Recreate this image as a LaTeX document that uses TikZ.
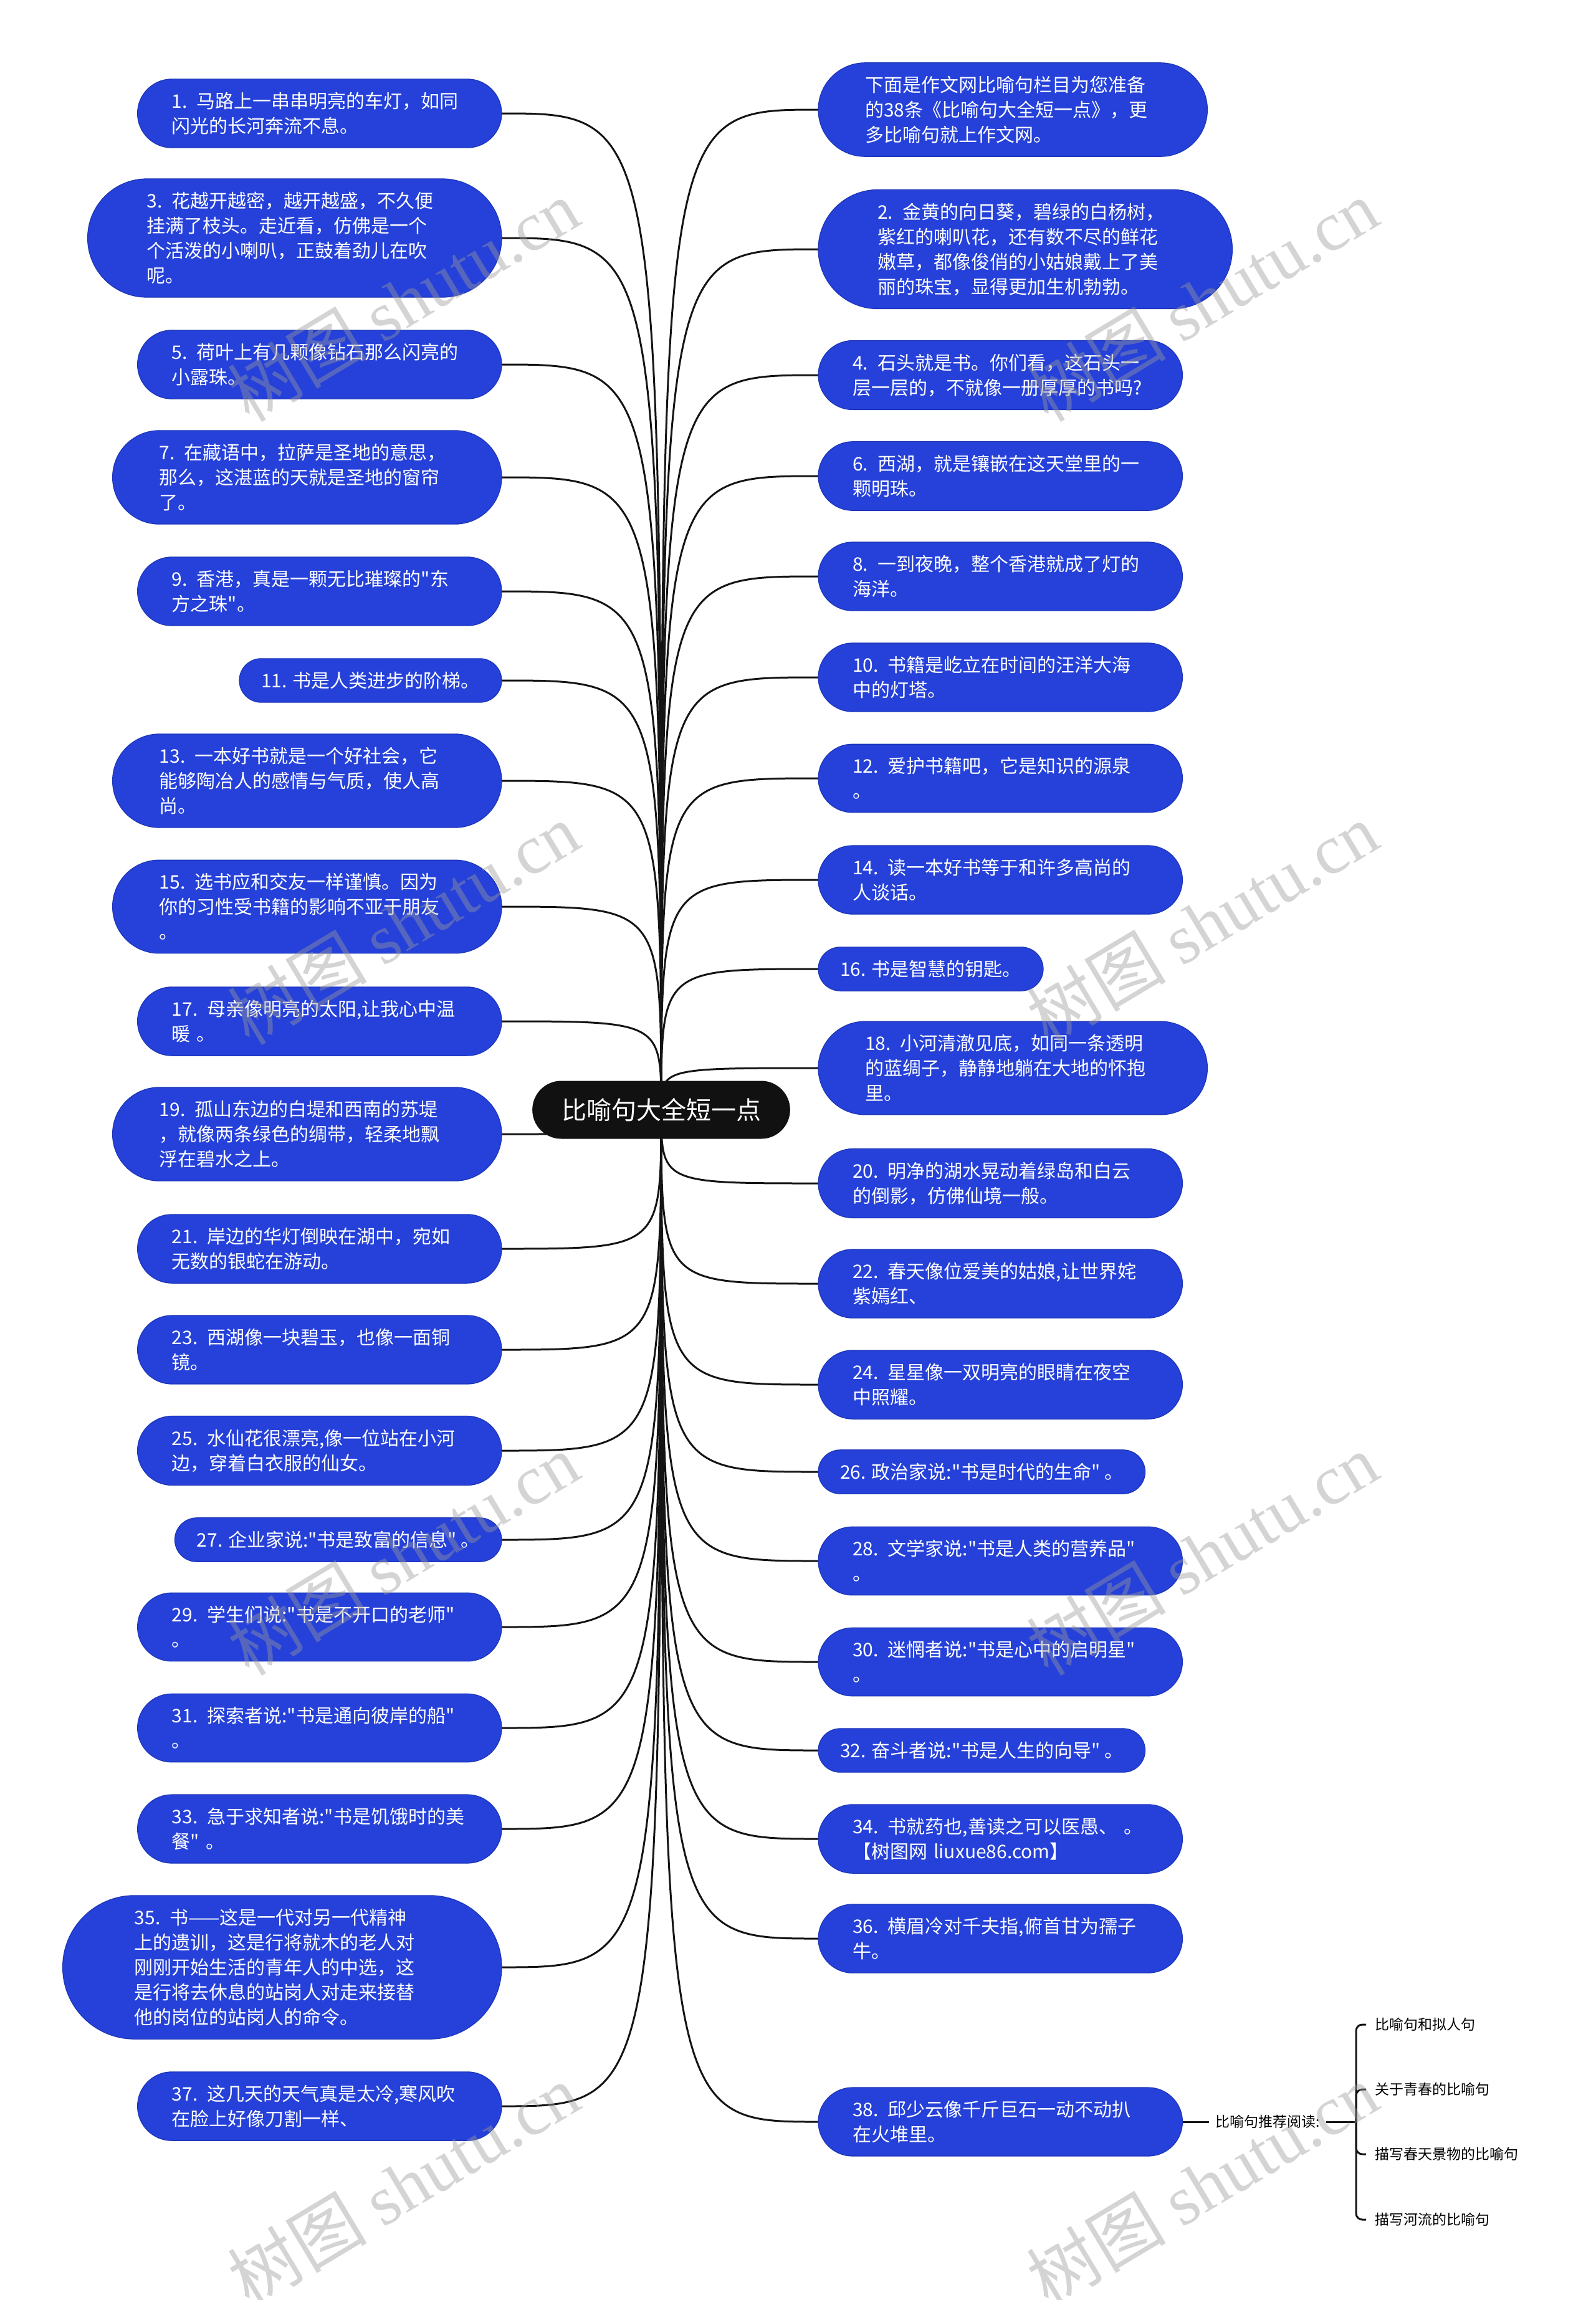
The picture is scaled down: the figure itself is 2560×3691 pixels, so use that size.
\documentclass[tikz,border=0pt]{standalone}
\usepackage{fontspec}
\setmainfont{Noto Sans CJK SC}[Ligatures=TeXOff]
\newfontfamily\wmlatin{Liberation Serif}
\usetikzlibrary{calc}
\definecolor{nodeblue}{HTML}{2541D9}
\definecolor{nodeedge}{HTML}{1C34B5}
\definecolor{rootblack}{HTML}{111111}
\definecolor{linecol}{HTML}{141414}
\definecolor{wmgray}{HTML}{9A9A9A}
\pgfdeclarelayer{bg}
\pgfdeclarelayer{mid}
\pgfdeclarelayer{fg}
\pgfsetlayers{bg,mid,main,fg}
\tikzset{
  leafbase/.style={rectangle, text=white, font=\fontsize{30}{40}\selectfont,
    align=left, inner ysep=21pt},
  lleaf/.style={leafbase, anchor=east, inner xsep=#1, text width=474pt},
  rleaf/.style={leafbase, anchor=west, inner xsep=#1, text width=474pt},
  lone/.style={leafbase, anchor=east, inner xsep=35pt},
  rone/.style={leafbase, anchor=west, inner xsep=35pt},
  rootbox/.style={rectangle, text=white, font=\fontsize{40}{48}\selectfont,
    inner xsep=46pt, inner ysep=27pt},
  link/.style={draw=linecol, line width=3pt},
  subitem/.style={font=\fontsize{23}{28}\selectfont, text=black, anchor=west,
    inner xsep=14pt, inner ysep=3pt},
  wm/.style={font=\fontsize{112}{120}\selectfont, text=wmgray, text opacity=0.42, rotate=31}
}
\newcommand\pillfill[3]{%
  \path[fill=#2, draw=#3, line width=1.2pt] let \p1=(#1.north west), \p2=(#1.south east),
    \n1={(\y1-\y2)/2} in [rounded corners=\n1] (\p1) rectangle (\p2);}
\begin{document}
\begin{tikzpicture}[x=1pt,y=-1pt]
\useasboundingbox (0,0) rectangle (2560,3691);

\node[rootbox] (root) at (1061,1781) {比喻句大全短一点};

% left column
\node[lleaf=55pt] (l1)  at (805,182)  {1. 马路上一串串明亮的车灯，如同\\闪光的长河奔流不息。};
\node[lleaf=95pt] (l3)  at (805,382)  {3. 花越开越密，越开越盛，不久便\\挂满了枝头。走近看，仿佛是一个\\个活泼的小喇叭，正鼓着劲儿在吹\\呢。};
\node[lleaf=55pt] (l5)  at (805,585)  {5. 荷叶上有几颗像钻石那么闪亮的\\小露珠。};
\node[lleaf=75pt] (l7)  at (805,766)  {7. 在藏语中，拉萨是圣地的意思，\\那么，这湛蓝的天就是圣地的窗帘\\了。};
\node[lleaf=55pt] (l9)  at (805,949)  {9. 香港，真是一颗无比璀璨的"东\\方之珠"。};
\node[lone] (l11) at (805,1092) {11. 书是人类进步的阶梯。};
\node[lleaf=75pt] (l13) at (805,1253) {13. 一本好书就是一个好社会，它\\能够陶冶人的感情与气质，使人高\\尚。};
\node[lleaf=75pt] (l15) at (805,1455) {15. 选书应和交友一样谨慎。因为\\你的习性受书籍的影响不亚于朋友\\。};
\node[lleaf=55pt] (l17) at (805,1639) {17. 母亲像明亮的太阳,让我心中温\\暖 。};
\node[lleaf=75pt] (l19) at (805,1820) {19. 孤山东边的白堤和西南的苏堤\\，就像两条绿色的绸带，轻柔地飘\\浮在碧水之上。};
\node[lleaf=55pt] (l21) at (805,2004) {21. 岸边的华灯倒映在湖中，宛如\\无数的银蛇在游动。};
\node[lleaf=55pt] (l23) at (805,2166) {23. 西湖像一块碧玉，也像一面铜\\镜。};
\node[lleaf=55pt] (l25) at (805,2328) {25. 水仙花很漂亮,像一位站在小河\\边，穿着白衣服的仙女。};
\node[lone] (l27) at (805,2471) {27. 企业家说:"书是致富的信息" 。};
\node[lleaf=55pt] (l29) at (805,2611) {29. 学生们说:"书是不开口的老师"\\。};
\node[lleaf=55pt] (l31) at (805,2773) {31. 探索者说:"书是通向彼岸的船"\\。};
\node[lleaf=55pt] (l33) at (805,2935) {33. 急于求知者说:"书是饥饿时的美\\餐" 。};
\node[lleaf=115pt] (l35) at (805,3157) {35. 书——这是一代对另一代精神\\上的遗训，这是行将就木的老人对\\刚刚开始生活的青年人的中选，这\\是行将去休息的站岗人对走来接替\\他的岗位的站岗人的命令。};
\node[lleaf=55pt] (l37) at (805,3380) {37. 这几天的天气真是太冷,寒风吹\\在脸上好像刀割一样、};

% right column
\node[rleaf=75pt] (r0)  at (1313,176)  {下面是作文网比喻句栏目为您准备\\的38条《比喻句大全短一点》，更\\多比喻句就上作文网。};
\node[rleaf=95pt] (r2)  at (1313,400)  {2. 金黄的向日葵，碧绿的白杨树，\\紫红的喇叭花，还有数不尽的鲜花\\嫩草，都像俊俏的小姑娘戴上了美\\丽的珠宝，显得更加生机勃勃。};
\node[rleaf=55pt] (r4)  at (1313,602)  {4. 石头就是书。你们看，这石头一\\层一层的，不就像一册厚厚的书吗?};
\node[rleaf=55pt] (r6)  at (1313,764)  {6. 西湖，就是镶嵌在这天堂里的一\\颗明珠。};
\node[rleaf=55pt] (r8)  at (1313,925)  {8. 一到夜晚，整个香港就成了灯的\\海洋。};
\node[rleaf=55pt] (r10) at (1313,1087) {10. 书籍是屹立在时间的汪洋大海\\中的灯塔。};
\node[rleaf=55pt] (r12) at (1313,1249) {12. 爱护书籍吧，它是知识的源泉\\。};
\node[rleaf=55pt] (r14) at (1313,1412) {14. 读一本好书等于和许多高尚的\\人谈话。};
\node[rone] (r16) at (1313,1555) {16. 书是智慧的钥匙。};
\node[rleaf=75pt] (r18) at (1313,1714) {18. 小河清澈见底，如同一条透明\\的蓝绸子，静静地躺在大地的怀抱\\里。};
\node[rleaf=55pt] (r20) at (1313,1899) {20. 明净的湖水晃动着绿岛和白云\\的倒影，仿佛仙境一般。};
\node[rleaf=55pt] (r22) at (1313,2060) {22. 春天像位爱美的姑娘,让世界姹\\紫嫣红、};
\node[rleaf=55pt] (r24) at (1313,2222) {24. 星星像一双明亮的眼睛在夜空\\中照耀。};
\node[rone] (r26) at (1313,2362) {26. 政治家说:"书是时代的生命" 。};
\node[rleaf=55pt] (r28) at (1313,2505) {28. 文学家说:"书是人类的营养品"\\。};
\node[rleaf=55pt] (r30) at (1313,2667) {30. 迷惘者说:"书是心中的启明星"\\。};
\node[rone] (r32) at (1313,2809) {32. 奋斗者说:"书是人生的向导" 。};
\node[rleaf=55pt] (r34) at (1313,2951) {34. 书就药也,善读之可以医愚、 。\\【树图网 liuxue86.com】};
\node[rleaf=55pt] (r36) at (1313,3111) {36. 横眉冷对千夫指,俯首甘为孺子\\牛。};
\node[rleaf=55pt] (r38) at (1313,3405) {38. 邱少云像千斤巨石一动不动扒\\在火堆里。};

% recommended reading subtree
\node[subitem, inner xsep=10pt] (lbl) at (1940,3405) {比喻句推荐阅读:};
\coordinate (bj) at (2176,3405);
\node[subitem] (s1) at (2192,3249) {比喻句和拟人句};
\node[subitem] (s2) at (2192,3353) {关于青春的比喻句};
\node[subitem] (s3) at (2192,3457) {描写春天景物的比喻句};
\node[subitem] (s4) at (2192,3562) {描写河流的比喻句};

\begin{pgfonlayer}{bg}
  \fill[white] (0,0) rectangle (2560,3691);
  \foreach \nm in {l1,l3,l5,l7,l9,l11,l13,l15,l17,l19,l21,l23,l25,l27,l29,l31,l33,l35,l37}
    \draw[link] (root.center) .. controls (root.center |- \nm.east) .. (\nm.east);
  \foreach \nm in {r0,r2,r4,r6,r8,r10,r12,r14,r16,r18,r20,r22,r24,r26,r28,r30,r32,r34,r36,r38}
    \draw[link] (root.center) .. controls (root.center |- \nm.west) .. (\nm.west);
  \draw[link] (r38.east) -- (lbl.west);
  \draw[link] (lbl.east) -- (bj);
  \foreach \s in {s1,s2,s3,s4}
    \draw[link, rounded corners=10pt] (bj) |- (\s.west);
\end{pgfonlayer}

\begin{pgfonlayer}{mid}
  \foreach \nm in {l1,l3,l5,l7,l9,l11,l13,l15,l17,l19,l21,l23,l25,l27,l29,l31,l33,l35,l37,
                  r0,r2,r4,r6,r8,r10,r12,r14,r16,r18,r20,r22,r24,r26,r28,r30,r32,r34,r36,r38}
    \pillfill{\nm}{nodeblue}{nodeedge};
  \pillfill{root}{rootblack}{rootblack};
\end{pgfonlayer}

\begin{pgfonlayer}{fg}
  \foreach \px/\py in {647/482, 1929/482, 647/1482, 1929/1482, 647/2494, 1929/2494, 647/3506, 1929/3506}
    \node[wm] (wm\px\py) at (\px,\py) {树图 {\wmlatin shutu.cn}};
\end{pgfonlayer}
\end{tikzpicture}
\end{document}
